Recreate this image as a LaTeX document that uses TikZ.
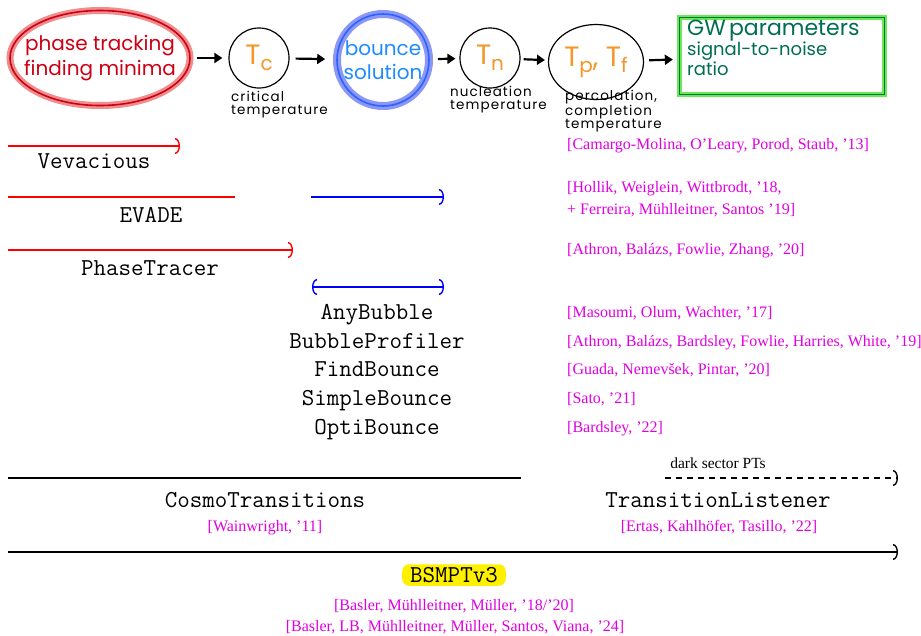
\documentclass[tikz,border=0pt]{standalone}
\usepackage{fontspec}
\usetikzlibrary{arrows.meta,shapes.geometric}
\newfontfamily\handfont{Poppins}
\newfontfamily\handfontsp{Poppins}[LetterSpace=8]
\newfontfamily\citefont{Liberation Serif}
\definecolor{hred}{RGB}{205,0,20}
\definecolor{hpink}{RGB}{240,140,140}
\definecolor{hblue}{RGB}{40,100,255}
\definecolor{hbluehalo}{RGB}{140,150,245}
\definecolor{htblue}{RGB}{30,140,255}
\definecolor{horange}{RGB}{245,150,40}
\definecolor{hgreen}{RGB}{0,120,60}
\definecolor{hgreenhalo}{RGB}{110,230,90}
\definecolor{gwtext}{RGB}{0,110,80}
\definecolor{citec}{RGB}{225,0,225}
\definecolor{hl}{RGB}{255,240,0}
\begin{document}
\begin{tikzpicture}[x=1pt,y=-1pt,
  flow/.style={-{Triangle[length=8pt,width=10pt]}, line width=2.2pt, black},
  tline/.style={line width=1.4pt},
  tipend/.style={-{Arc Barb[length=5pt,width=16pt]}},
  tipboth/.style={{Arc Barb[length=5pt,width=16pt]}-{Arc Barb[length=5pt,width=16pt]}},
  tool/.style={font=\fontsize{24.3}{26}\selectfont\ttfamily, inner sep=0pt, text height=14.5pt, text depth=0pt},
  ref/.style={font=\fontsize{16}{22}\selectfont\citefont, text=citec, inner sep=0pt, align=left, text height=10.8pt, text depth=0pt},
  hand/.style={font=\fontsize{13.5}{13}\selectfont\handfontsp, align=left, inner sep=0pt, text=black, anchor=north west},
  bigT/.style={text=horange, font=\fontsize{28}{30}\selectfont\handfont},
]
\useasboundingbox (0,0) rectangle (921,635);
\fill[white] (0,0) rectangle (921,635);

% ---------- top row ----------
\node[ellipse, draw=hred, line width=1.6pt, preaction={draw=hpink, line width=7pt},
      minimum width=180pt, minimum height=95pt, inner sep=0pt] (ph) at (100,58) {};
\node[text=hred, align=center, font=\fontsize{20}{25}\selectfont\handfont, inner sep=0pt] (pht) at (ph) {phase tracking\\finding minima};
\node[circle, draw, line width=1.2pt, minimum size=60pt, bigT, inner sep=0pt] (tc) at (259,58)
      {T\raisebox{-6pt}{\fontsize{20}{20}\selectfont c}};
\node[hand] (tcl) at (231,91) {critical\\temperature};
\node[circle, draw=hblue, line width=1.6pt, preaction={draw=hbluehalo, line width=8pt},
      minimum size=92pt, inner sep=0pt] (bs) at (383,60) {};
\node[text=htblue, align=center, font=\fontsize{20}{24}\selectfont\handfont, inner sep=0pt] (bst) at (bs) {bounce\\solution};
\node[circle, draw, line width=1.2pt, minimum size=60pt, bigT, inner sep=0pt] (tn) at (490,58)
      {T\raisebox{-6pt}{\fontsize{20}{20}\selectfont n}};
\node[hand] (tnl) at (450,86) {nucleation\\temperature};
\node[ellipse, draw, line width=1.2pt, minimum width=95pt, minimum height=75pt, inner sep=0pt] (tp) at (596,62) {};
\node[bigT, inner sep=0pt] (tpt) at (tp)
      {T\raisebox{-6pt}{\fontsize{20}{20}\selectfont p}, T\raisebox{-6pt}{\fontsize{20}{20}\selectfont f}};
\node[hand] (tpl) at (565,90) {percolation,\\completion\\temperature};
\node[rectangle, draw=hgreen, line width=1.3pt, preaction={draw=hgreenhalo, line width=5pt},
      minimum width=205pt, minimum height=77pt, inner sep=0pt] (gw) at (782,56) {};
\node[anchor=north west, text width=195pt, align=left, text=gwtext, font=\handfont, inner sep=0pt] (gwt) at (687,20)
      {{\fontsize{22}{24}\selectfont GW parameters}\\[-1pt]{\fontsize{18}{21}\selectfont signal-to-noise\\ratio}};

\draw[flow, shorten <=6pt, shorten >=6pt] (ph) -- (tc);
\draw[flow, shorten <=6pt, shorten >=11pt] (tc) -- (bs);
\draw[flow, shorten <=8pt, shorten >=4pt] (bs) -- (tn);
\draw[flow, shorten <=3pt, shorten >=3pt] (tn) -- (tp);
\draw[flow, shorten <=5pt, shorten >=6pt] (tp) -- (gw);

% ---------- timelines ----------
\coordinate (v0) at (8,146);   \coordinate (v1) at (180,146);
\coordinate (e0) at (8,197);   \coordinate (e1) at (235,197);
\coordinate (e2) at (311,197); \coordinate (e3) at (444,197);
\coordinate (p0) at (8,250);   \coordinate (p1) at (293,250);
\coordinate (b0) at (312,287); \coordinate (b1) at (444,287);
\coordinate (c0) at (8,478);   \coordinate (c1) at (521,478);
\coordinate (d0) at (665,478); \coordinate (d1) at (898,478);
\coordinate (s0) at (8,552);   \coordinate (s1) at (898,552);

\draw[red, tline, tipend] (v0) -- (v1);
\draw[red, tline] (e0) -- (e1);
\draw[blue, tline, tipend] (e2) -- (e3);
\draw[red, tline, tipend] (p0) -- (p1);
\draw[blue, tline, tipboth] (b0) -- (b1);
\draw[black, tline] (c0) -- (c1);
\draw[black, tline, dash pattern=on 6pt off 5pt, tipend] (d0) -- (d1);
\draw[black, tline, tipend] (s0) -- (s1);

% ---------- tool names ----------
\node[tool] (vev) at (94,161) {Vevacious};
\node[tool] (eva) at (151,215) {EVADE};
\node[tool] (pht2) at (150,268) {PhaseTracer};
\node[tool] (any) at (377,312) {AnyBubble};
\node[tool] (bpr) at (377,341) {BubbleProfiler};
\node[tool] (fbo) at (377,369) {FindBounce};
\node[tool] (sbo) at (377,398) {SimpleBounce};
\node[tool] (obo) at (377,427) {OptiBounce};
\node[tool] (cos) at (265,500) {CosmoTransitions};
\node[tool] (tli) at (718,500) {TransitionListener};
\node[tool, fill=hl, rounded corners=7pt, inner xsep=8pt, inner ysep=3.5pt] (bsm) at (454,575) {BSMPTv3};

% ---------- references ----------
\node[ref, anchor=west] (r1) at (567,144) {[Camargo-Molina, O’Leary, Porod, Staub, ’13]};
\node[ref, anchor=west] (r2a) at (567,187) {[Hollik, Weiglein, Wittbrodt, ’18,};
\node[ref, anchor=west] (r2b) at (567,209) {+ Ferreira, Mühlleitner, Santos ’19]};
\node[ref, anchor=west] (r3) at (567,249) {[Athron, Balázs, Fowlie, Zhang, ’20]};
\node[ref, anchor=west] (r4) at (567,312) {[Masoumi, Olum, Wachter, ’17]};
\node[ref, anchor=west] (r5) at (567,341) {[Athron, Balázs, Bardsley, Fowlie, Harries, White, ’19]};
\node[ref, anchor=west] (r6) at (567,369) {[Guada, Nemevšek, Pintar, ’20]};
\node[ref, anchor=west] (r7) at (567,398) {[Sato, ’21]};
\node[ref, anchor=west] (r8) at (567,427) {[Bardsley, ’22]};
\node[font=\fontsize{15.5}{17}\selectfont\citefont, inner sep=0pt, text height=10.5pt, text depth=0pt] (dsp) at (718,463) {dark sector PTs};
\node[ref] (r9) at (265,526) {[Wainwright, ’11]};
\node[ref] (r10) at (719,526) {[Ertas, Kahlhöfer, Tasillo, ’22]};
\node[ref] (r11) at (454,605) {[Basler, Mühlleitner, Müller, ’18/’20]};
\node[ref] (r12) at (455,626) {[Basler, LB, Mühlleitner, Müller, Santos, Viana, ’24]};
\end{tikzpicture}
\end{document}
